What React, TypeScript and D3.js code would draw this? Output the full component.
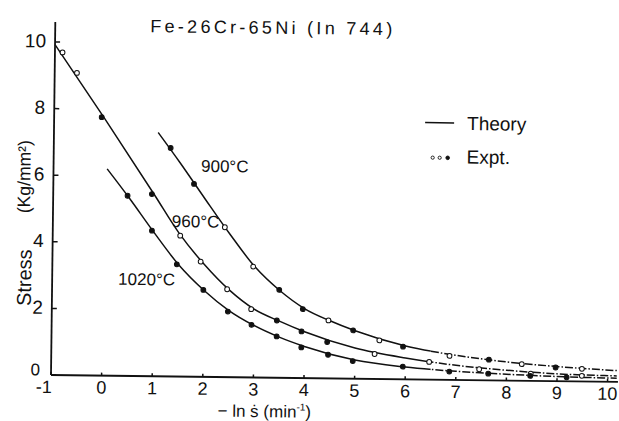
import React from 'react';
import * as d3 from 'd3';

const xTicks = [-1, 0, 1, 2, 3, 4, 5, 6, 7, 8, 9, 10];
const xTickLabels = ['-1', '0', '1', '2', '3', '4', '5', '6', '7', '8', '9', '10'];
const yTicks = [0, 2, 4, 6, 8, 10];
const yTickLabels = ['0', '2', '4', '6', '8', '10'];

// Theory curves
const th960X = [-1.0, 0, 1, 1.5, 2, 2.5, 3, 3.5, 4, 5, 6, 7, 8, 9, 10.18];
const th960Y = [9.92, 7.72, 5.45, 4.3, 3.38, 2.62, 2.05, 1.7, 1.39, 0.92, 0.64, 0.44, 0.31, 0.22, 0.18];
const th900X = [1.06, 1.5, 2, 2.5, 3, 3.5, 4, 4.5, 5, 6, 7, 8, 9, 10.18];
const th900Y = [7.32, 6.42, 5.35, 4.3, 3.33, 2.62, 2.08, 1.73, 1.44, 1.0, 0.74, 0.56, 0.44, 0.34];
const th1020X = [0.06, 0.5, 1, 1.5, 2, 2.5, 3, 3.5, 4, 5, 6, 7, 8, 9, 10.18];
const th1020Y = [6.21, 5.35, 4.32, 3.35, 2.6, 2.0, 1.56, 1.22, 0.95, 0.56, 0.37, 0.26, 0.19, 0.14, 0.11];

// Experimental points (kind: 'o' open, 'f' filled)
const ex960X = [-0.85, -0.56, -0.06, 0.95, 1.52, 1.93, 2.46, 2.94, 3.45, 3.94, 4.45, 5.39, 6.47, 7.46, 8.48, 9.49];
const ex960Y = [9.69, 9.08, 7.76, 5.47, 4.23, 3.46, 2.64, 2.05, 1.72, 1.4, 1.09, 0.75, 0.53, 0.33, 0.22, 0.17];
const ex960K = ['o', 'o', 'f', 'f', 'o', 'o', 'o', 'o', 'f', 'f', 'f', 'o', 'o', 'o', 'o', 'o'];
const ex900X = [1.31, 1.78, 2.4, 2.97, 3.49, 3.96, 4.47, 4.96, 5.48, 5.95, 6.87, 7.65, 8.3, 8.97, 9.49];
const ex900Y = [6.86, 5.79, 4.5, 3.33, 2.64, 2.07, 1.74, 1.45, 1.16, 0.98, 0.72, 0.62, 0.5, 0.41, 0.38];
const ex900K = ['f', 'f', 'o', 'o', 'f', 'f', 'o', 'f', 'o', 'f', 'o', 'f', 'o', 'f', 'o'];
const ex1020X = [0.47, 0.96, 1.46, 1.99, 2.48, 2.95, 3.45, 3.94, 4.47, 4.96, 5.95, 6.87, 7.64, 8.47, 9.19];
const ex1020Y = [5.41, 4.37, 3.37, 2.61, 1.97, 1.58, 1.24, 0.92, 0.71, 0.53, 0.38, 0.25, 0.2, 0.15, 0.12];
const ex1020K = ['f', 'f', 'f', 'f', 'f', 'f', 'f', 'f', 'f', 'f', 'f', 'f', 'f', 'f', 'f'];

const curveLabels = ['900°C', '960°C', '1020°C'];
const titleText = 'Fe-26Cr-65Ni (In 744)';

const W = 619;
const H = 421;
const FONT = '"Liberation Sans", Arial, Helvetica, sans-serif';

export default function App() {
  const x = d3.scaleLinear().domain([-1, 10]).range([51, 607.6]);
  const y = d3.scaleLinear().domain([0, 10]).range([375, 42]);
  const line = d3
    .line<[number, number]>()
    .x((d) => x(d[0]))
    .y((d) => y(d[1]))
    .curve(d3.curveMonotoneX);

  const theories = [
    { xs: th900X, ys: th900Y },
    { xs: th960X, ys: th960Y },
    { xs: th1020X, ys: th1020Y },
  ];
  const expts = [
    { xs: ex900X, ys: ex900Y, ks: ex900K },
    { xs: ex960X, ys: ex960Y, ks: ex960K },
    { xs: ex1020X, ys: ex1020Y, ks: ex1020K },
  ];
  const splitX = x(6.5);

  return (
    <svg
      width={W}
      height={H}
      style={{ position: 'absolute', left: 0, top: 0, background: '#fff' }}
      fontFamily={FONT}
    >
      <defs>
        <clipPath id="clipL">
          <rect x={0} y={0} width={splitX} height={H} />
        </clipPath>
        <clipPath id="clipR">
          <rect x={splitX} y={0} width={W - splitX} height={H} />
        </clipPath>
      </defs>
      <rect x={0} y={0} width={W} height={H} fill="#fff" />
      <g transform="rotate(0.7 51 375)">
        {/* axes */}
        <line x1={x(-1)} x2={x(-1)} y1={y(0)} y2={22} stroke="#111" strokeWidth={1.8} />
        <line x1={x(-1)} x2={618} y1={y(0)} y2={y(0)} stroke="#111" strokeWidth={1.8} />
        {yTicks.map((v, i) => (
          <g key={'yt' + v}>
            <line x1={x(-1)} x2={x(-1) + 5} y1={y(v)} y2={y(v)} stroke="#111" strokeWidth={1.5} />
            <text
              x={i === 0 ? 40 : 42}
              y={i === 0 ? y(v) - 5 : y(v) - 1}
              textAnchor="end"
              dominantBaseline="central"
              fontSize={i === 0 ? 17 : 19}
              fill="#111"
            >
              {yTickLabels[i]}
            </text>
          </g>
        ))}
        {xTicks.map((v, i) => (
          <g key={'xt' + v}>
            <line x1={x(v)} x2={x(v)} y1={y(0)} y2={y(0) - 3} stroke="#111" strokeWidth={1.5} />
            <text
              x={i === 0 ? x(v) + 1 : x(v)}
              y={393}
              textAnchor={i === 0 ? 'end' : 'middle'}
              fontSize={18}
              fill="#111"
            >
              {xTickLabels[i]}
            </text>
          </g>
        ))}

        {/* theory curves */}
        {theories.map((t, i) => {
          const pts = t.xs.map((v, j) => [v, t.ys[j]] as [number, number]);
          const d = line(pts) || '';
          return (
            <g key={'th' + i} fill="none" stroke="#111" strokeWidth={1.5}>
              <path d={d} clipPath="url(#clipL)" />
              <path d={d} clipPath="url(#clipR)" strokeDasharray="8 2 1.5 2" />
            </g>
          );
        })}

        {/* experimental points */}
        {expts.map((e, i) =>
          e.xs.map((v, j) => (
            <circle
              key={'ex' + i + '-' + j}
              cx={x(v)}
              cy={y(e.ys[j])}
              r={2.4}
              fill={e.ks[j] === 'f' ? '#111' : '#fff'}
              stroke="#111"
              strokeWidth={1}
            />
          ))
        )}

        {/* curve labels */}
        <text x={198.5} y={170} fontSize={17} fill="#111">{curveLabels[0]}</text>
        <text x={170} y={225.5} fontSize={17} fill="#111">{curveLabels[1]}</text>
        <text x={117} y={284} fontSize={17} fill="#111">{curveLabels[2]}</text>

        {/* title */}
        <text x={146} y={31} fontSize={18} fill="#111" textLength={242} lengthAdjust="spacing">
          {titleText}
        </text>

        {/* legend */}
        <line x1={422} x2={451} y1={118} y2={118} stroke="#111" strokeWidth={1.5} />
        <text x={464} y={125} fontSize={19} fill="#111">Theory</text>
        <circle cx={430} cy={153} r={1.6} fill="#fff" stroke="#111" strokeWidth={0.9} />
        <circle cx={437} cy={153} r={1.6} fill="#fff" stroke="#111" strokeWidth={0.9} />
        <circle cx={445} cy={153} r={1.8} fill="#111" stroke="#111" strokeWidth={0.9} />
        <text x={464} y={158.5} fontSize={19} fill="#111">Expt.</text>

        {/* axis titles */}
        <text
          transform="translate(23,278) rotate(-90)"
          textAnchor="middle"
          dominantBaseline="central"
          fontSize={20}
          fill="#111"
        >
          Stress
        </text>
        <text
          transform="translate(22,177) rotate(-90)"
          textAnchor="middle"
          dominantBaseline="central"
          fontSize={18}
          fill="#111"
          textLength={73}
          lengthAdjust="spacingAndGlyphs"
        >
          (Kg/mm²)
        </text>
        <text x={218} y={414.5} fontSize={17} fill="#111">
          − ln ṡ  (min
          <tspan dy={-7} fontSize={10}>-1</tspan>
          <tspan dy={7}>)</tspan>
        </text>
      </g>
    </svg>
  );
}
